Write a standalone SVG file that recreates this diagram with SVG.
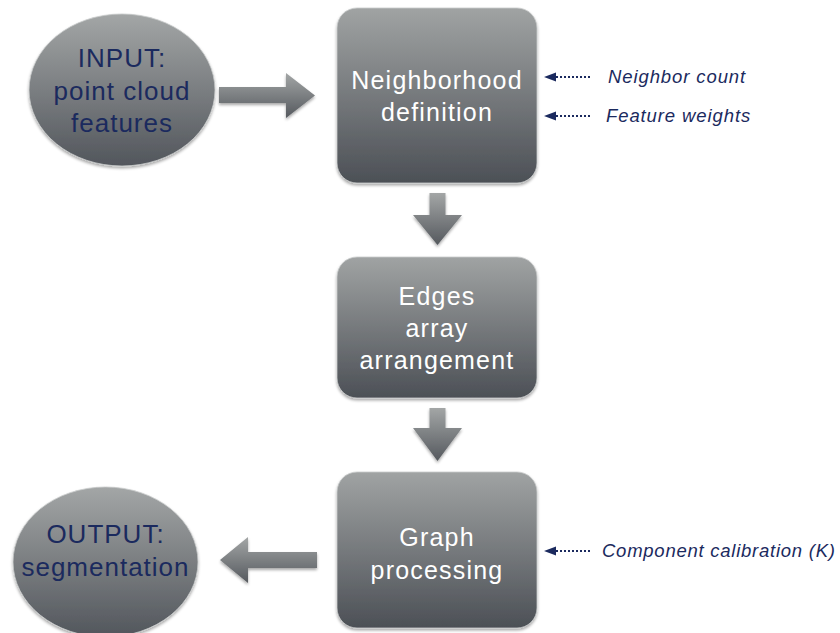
<svg xmlns="http://www.w3.org/2000/svg" width="840" height="633" viewBox="0 0 840 633">
<defs>
<linearGradient id="gBox" x1="0" y1="0" x2="0" y2="1">
<stop offset="0" stop-color="#a0a3a3"/>
<stop offset="1" stop-color="#4c5056"/>
</linearGradient>
<linearGradient id="gEll" x1="0" y1="0" x2="0" y2="1">
<stop offset="0" stop-color="#a3a6a6"/>
<stop offset="1" stop-color="#52565c"/>
</linearGradient>
<linearGradient id="gArr" x1="0" y1="0" x2="0" y2="1">
<stop offset="0" stop-color="#a3a6a6"/>
<stop offset="1" stop-color="#55595e"/>
</linearGradient>
<filter id="sh" x="-10%" y="-10%" width="120%" height="125%">
<feGaussianBlur in="SourceAlpha" stdDeviation="1.5"/>
<feOffset dx="0" dy="2" result="b"/>
<feComponentTransfer><feFuncA type="linear" slope="0.35"/></feComponentTransfer>
<feMerge><feMergeNode/><feMergeNode in="SourceGraphic"/></feMerge>
</filter>
<style>
.box{fill:url(#gBox);stroke:#c9cbcb;stroke-width:0.8;filter:url(#sh)}
.ell{fill:url(#gEll);stroke:#c9cbcb;stroke-width:0.8;filter:url(#sh)}
.arr{fill:url(#gArr);filter:url(#sh)}
.bt{font-family:"Liberation Sans",Arial,sans-serif;font-size:25px;fill:#ffffff;text-anchor:middle;letter-spacing:1.2px}
.et{font-family:"Liberation Sans",Arial,sans-serif;font-size:26px;fill:#1b2a5e;text-anchor:middle;letter-spacing:1px}
.lt{font-family:"Liberation Sans",Arial,sans-serif;font-size:18.5px;font-style:italic;fill:#1b2a5e;letter-spacing:0.9px}
.dot{stroke:#1b2a5e;stroke-width:2;stroke-dasharray:2,2;fill:none}
.hd{fill:#1b2a5e}
</style>
</defs>
<rect width="840" height="633" fill="#ffffff"/>

<g id="connectors">
<path class="arr" d="M219,87 H286 V73 L315,95.5 L286,118 V103 H219 Z"/>
<path class="arr" d="M429.5,193 H445.5 V215 H462 L437.5,245 L413,215 H429.5 Z"/>
<path class="arr" d="M429.5,408 H445.5 V428 H462 L437.5,461 L413,428 H429.5 Z"/>
<path class="arr" d="M317,552 H248 V537 L220,560 L248,583 V568 H317 Z"/>
<line class="dot" x1="590" y1="77" x2="556" y2="77"/>
<path class="hd" d="M544,77 L556,72.5 L556,81.5 Z"/>
<line class="dot" x1="590" y1="116" x2="556" y2="116"/>
<path class="hd" d="M544,116 L556,111.5 L556,120.5 Z"/>
<line class="dot" x1="590" y1="551" x2="556" y2="551"/>
<path class="hd" d="M544,551 L556,546.5 L556,555.5 Z"/>
</g>

<g id="input">
<ellipse class="ell" cx="122" cy="90" rx="93" ry="76"/>
<text class="et" x="122" y="67">INPUT:</text>
<text class="et" x="122" y="100">point cloud</text>
<text class="et" x="122" y="132">features</text>
</g>

<g id="neighborhood">
<rect class="box" x="337" y="8" width="200" height="175" rx="20"/>
<text class="bt" x="437" y="89">Neighborhood</text>
<text class="bt" x="437" y="121">definition</text>
</g>

<g id="edges">
<rect class="box" x="337" y="257" width="200" height="141" rx="20"/>
<text class="bt" x="437" y="305">Edges</text>
<text class="bt" x="437" y="337">array</text>
<text class="bt" x="437" y="369">arrangement</text>
</g>

<g id="graph">
<rect class="box" x="337" y="472" width="200" height="156" rx="20"/>
<text class="bt" x="437" y="546">Graph</text>
<text class="bt" x="437" y="579">processing</text>
</g>

<g id="output">
<ellipse class="ell" cx="105.5" cy="562" rx="92.5" ry="75"/>
<text class="et" x="105.5" y="543">OUTPUT:</text>
<text class="et" x="105.5" y="576">segmentation</text>
</g>

<g id="labels">
<text class="lt" x="608" y="83">Neighbor count</text>
<text class="lt" x="606" y="122">Feature weights</text>
<text class="lt" x="602" y="557" style="letter-spacing:0.75px">Component calibration (K)</text>
</g>
</svg>
